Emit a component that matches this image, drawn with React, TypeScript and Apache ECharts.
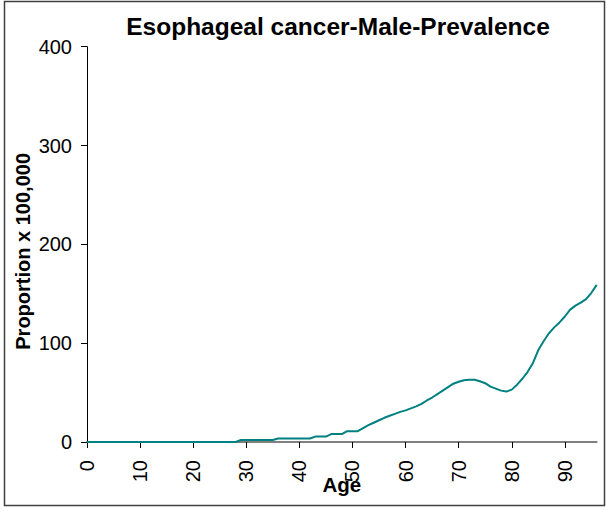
import React, { useEffect, useRef } from "react";
import * as echarts from "echarts";

const titleText = "Esophageal cancer-Male-Prevalence";
const xAxisName = "Age";
const yAxisName = "Proportion x 100,000";
const xTicks = [0, 10, 20, 30, 40, 50, 60, 70, 80, 90];
const yTicks = [0, 100, 200, 300, 400];
const ages = [
  0, 1, 2, 3, 4, 5, 6, 7, 8, 9, 10, 11, 12, 13, 14, 15, 16, 17, 18, 19, 20, 21, 22, 23, 24, 25, 26, 27, 28, 29,
  30, 31, 32, 33, 34, 35, 36, 37, 38, 39, 40, 41, 42, 43, 44, 45, 46, 47, 48, 49, 50, 51, 52, 53, 54, 55, 56, 57,
  58, 59, 60, 61, 62, 63, 64, 65, 66, 67, 68, 69, 70, 71, 72, 73, 74, 75, 76, 77, 78, 79, 80, 81, 82, 83, 84, 85,
  86, 87, 88, 89, 90, 91, 92, 93, 94, 95, 96,
];
const prevalence = [
  0, 0, 0, 0, 0, 0, 0, 0, 0, 0, 0, 0, 0, 0, 0, 0, 0, 0, 0, 0, 0, 0, 0, 0, 0, 0, 0, 0, 0, 2,
  2, 2, 2, 2, 2, 2, 3.5, 3.5, 3.5, 3.5, 3.5, 3.5, 3.5, 5.5, 5.5, 5.5, 8, 8, 8, 11, 11, 11, 14, 17, 19.5, 22, 24.5, 26.5,
  28.5, 30.5, 32, 34, 36, 38.5, 42, 45, 48.5, 52, 55.5, 59, 61, 62.5, 63, 63, 61.5, 59.5, 56, 54, 52, 51, 53, 58, 64, 71, 80, 93,
  102, 110, 116, 121, 127, 134, 138, 141, 144.5, 151, 159,
];

export default function App() {
  const ref = useRef<HTMLDivElement>(null);
  useEffect(() => {
    if (!ref.current) return;
    const chart = echarts.init(ref.current, undefined, { renderer: "svg" });
    const font = "'Liberation Sans', Arial, Helvetica, sans-serif";
    chart.setOption({
      animation: false,
      backgroundColor: "#ffffff",
      title: {
        text: titleText,
        left: 338,
        top: 14,
        padding: 0,
        textAlign: "center",
        textStyle: { fontFamily: font, fontSize: 24.5, fontWeight: "bold", color: "#000" },
      },
      graphic: [
        {
          type: "rect",
          shape: { x: 4.5, y: 1.5, width: 600, height: 504 },
          style: { fill: "none", stroke: "#404040", lineWidth: 1.5 },
          silent: true,
          z: 100,
        },
      ],
      grid: { left: 87, right: 9.3, top: 46.7, bottom: 65, containLabel: false, outerBoundsMode: "none" },
      xAxis: {
        type: "value",
        min: 0,
        max: 96,
        interval: 10,
        name: xAxisName,
        nameLocation: "middle",
        nameGap: 32,
        nameMoveOverlap: false,
        nameTextStyle: { fontFamily: font, fontSize: 20.5, fontWeight: "bold", color: "#000" },
        axisLine: { show: true, lineStyle: { color: "#808080", width: 2 } },
        axisTick: { show: true, length: 6, customValues: xTicks, lineStyle: { color: "#000", width: 1 } },
        axisLabel: {
          customValues: xTicks,
          rotate: 90,
          margin: 18,
          fontFamily: font,
          fontSize: 20,
          color: "#000",
        },
        splitLine: { show: false },
      },
      yAxis: {
        type: "value",
        min: 0,
        max: 400,
        interval: 100,
        name: yAxisName,
        nameLocation: "middle",
        nameGap: 54,
        nameMoveOverlap: false,
        nameTextStyle: { fontFamily: font, fontSize: 20, fontWeight: "bold", color: "#000", padding: [0, 14, 0, 0] },
        axisLine: { show: true, lineStyle: { color: "#000", width: 1 } },
        axisTick: { show: true, length: 6, lineStyle: { color: "#000", width: 1 } },
        axisLabel: { margin: 15, fontFamily: font, fontSize: 20, color: "#000", customValues: yTicks },
        splitLine: { show: false },
      },
      series: [
        {
          type: "line",
          data: ages.map((a, i) => [a, prevalence[i]]),
          showSymbol: false,
          symbol: "none",
          lineStyle: { color: "#008080", width: 2 },
          itemStyle: { color: "#008080" },
        },
      ],
    });
    return () => chart.dispose();
  }, []);
  return (
    <div
      ref={ref}
      style={{ position: "fixed", left: 0, top: 0, width: 606, height: 507 }}
    />
  );
}
